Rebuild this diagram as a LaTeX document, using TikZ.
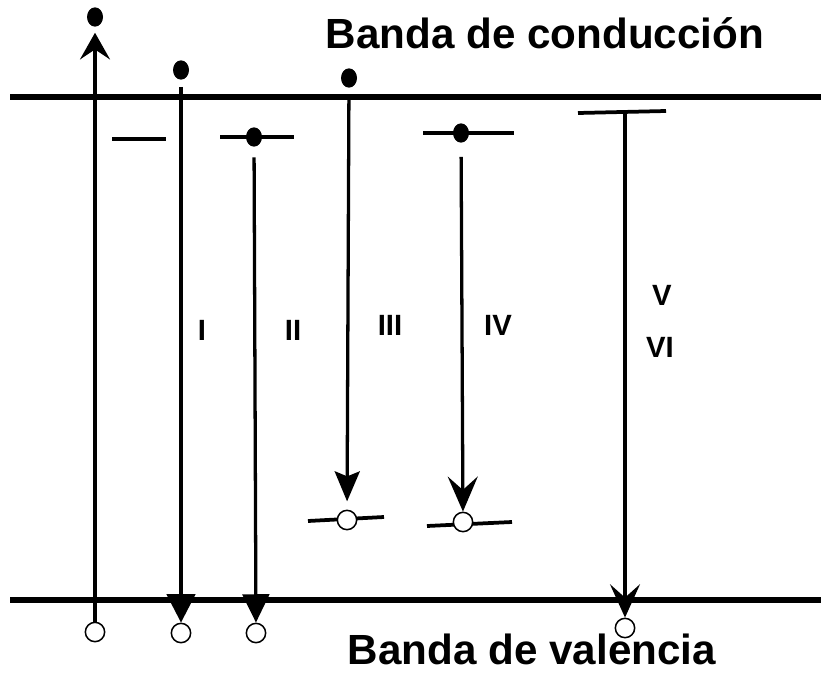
\documentclass[tikz,border=0pt]{standalone}
\usepackage{fontspec}
\setmainfont{Liberation Sans}
\usetikzlibrary{calc, arrows.meta, shapes.geometric}

\begin{document}
\begin{tikzpicture}[x=0.03cm, y=-0.03cm,
    band/.style={line width=5pt},
    level/.style={line width=3.2pt},
    trans/.style={line width=2.8pt},
    electron/.style={ellipse, fill=black, inner sep=0pt, minimum width=0.48cm, minimum height=0.58cm},
    hole/.style={circle, draw=black, fill=white, line width=1.3pt, inner sep=0pt, minimum size=0.58cm},
    roman/.style={font=\fontsize{25}{28}\selectfont\bfseries, inner sep=0pt},
    title/.style={font=\fontsize{36}{40}\selectfont\bfseries}]
    \useasboundingbox (0,0) rectangle (821,675);

    \coordinate (CL) at (10,97);
    \coordinate (CR) at (821,97);
    \coordinate (VL) at (10,600);
    \coordinate (VR) at (821,600);

    % band edges
    \draw[band] (CL) -- (CR);
    \draw[band] (VL) -- (VR);

    \node[title, anchor=base] (cond) at (545,48) {Banda de conducción};
    \node[title, anchor=base] (val) at (532,664) {Banda de valencia};

    % trap levels
    \coordinate (t1) at (139,139);
    \coordinate (t2) at (257,137);
    \coordinate (t3) at (346,520);
    \coordinate (t4) at (468,133);
    \coordinate (t5) at (470,523);
    \coordinate (t6) at (622,112);
    \draw[level] ($(t1)+(-27,0)$) -- ($(t1)+(27,0)$);
    \draw[level] ($(t2)+(-37,0)$) -- ($(t2)+(37,0)$);
    \draw[level] ($(t3)+(-38,1)$) -- ($(t3)+(38,-3)$);
    \draw[level] ($(t4)+(-45,0)$) -- ($(t4)+(46,0)$);
    \draw[level] ($(t5)+(-43,3)$) -- ($(t5)+(42,-1)$);
    \draw[level] ($(t6)+(-44,1)$) -- ($(t6)+(44,-1)$);

    % electrons
    \node[electron] (e0) at (95,17) {};
    \node[electron] (e1) at (181,70) {};
    \node[electron] (e2) at (254,137) {};
    \node[electron] (e3) at (349,78) {};
    \node[electron] (e4) at (461,133) {};
    \coordinate (e6) at (625,112);

    % holes
    \node[hole] (h0) at (95,632) {};
    \node[hole] (h1) at (181,633) {};
    \node[hole] (h2) at (256,633) {};
    \node[hole] (h3) at (347,520) {};
    \node[hole] (h4) at (463,522) {};
    \node[hole] (h6) at (625,628) {};

    % transitions
    \draw[trans, -{Stealth[length=0.8cm, width=0.9cm, inset=0.3cm]}, shorten >=5pt] (h0) -- (e0);
    \draw[trans, -{Triangle[length=0.85cm, width=0.85cm]}, shorten <=6pt] (e1) -- (h1);
    \draw[trans, -{Triangle[length=0.85cm, width=0.8cm]}, shorten <=9pt] (e2) -- (h2);
    \draw[trans, -{Stealth[length=0.9cm, width=0.75cm, inset=0.15cm]}, shorten <=10pt, shorten >=7pt] (e3) -- (h3);
    \draw[trans, -{Stealth[length=1.05cm, width=0.9cm, inset=0.4cm]}, shorten <=12pt] (e4) -- (h4);
    \draw[trans, -{Stealth[length=1cm, width=0.9cm, inset=0.4cm]}] (e6) -- (h6);

    \node[roman] (l1) at (202,330) {I};
    \node[roman] (l2) at (293,330) {II};
    \node[roman] (l3) at (390,325) {III};
    \node[roman] (l4) at (498,325) {IV};
    \node[roman] (l5) at (662,295) {V};
    \node[roman] (l6) at (660,347) {VI};
\end{tikzpicture}
\end{document}
